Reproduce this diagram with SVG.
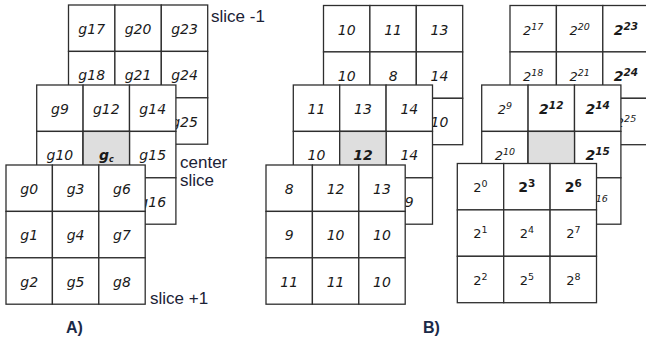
<svg xmlns="http://www.w3.org/2000/svg" width="646" height="338" viewBox="0 0 646 338">
  <style>
    .cell { fill: #ffffff; stroke: #2e2e2e; stroke-width: 1.3; }
    .hl { fill: #dedede; }
    .v { font-family: "DejaVu Sans", Verdana, sans-serif; font-size: 14px; font-style: italic; fill: #1a1a1a; text-anchor: middle; }
    .p { font-family: "DejaVu Sans", Verdana, sans-serif; font-size: 13px; font-style: italic; fill: #1a1a1a; text-anchor: middle; }
    .up { font-style: normal; }
    .b { font-weight: bold; font-size: 14px; }
    .bv { font-weight: bold; }
    .sup { font-size: 9.5px; }
    .bsup { font-size: 10.5px; }
    .lbl { font-family: "Liberation Sans", Arial, sans-serif; font-size: 17px; fill: #1b2236; }
    .tag { font-family: "Liberation Sans", Arial, sans-serif; font-size: 16px; font-weight: bold; fill: #1b2a48; }
  </style>
  <defs>
    <!-- one 3x3 grid of 46.4px cells -->
    <g id="grid">
      <rect class="cell" x="0" y="0" width="46.4" height="46.4"/>
      <rect class="cell" x="46.4" y="0" width="46.4" height="46.4"/>
      <rect class="cell" x="92.8" y="0" width="46.4" height="46.4"/>
      <rect class="cell" x="0" y="46.4" width="46.4" height="46.4"/>
      <rect class="cell" x="46.4" y="46.4" width="46.4" height="46.4"/>
      <rect class="cell" x="92.8" y="46.4" width="46.4" height="46.4"/>
      <rect class="cell" x="0" y="92.8" width="46.4" height="46.4"/>
      <rect class="cell" x="46.4" y="92.8" width="46.4" height="46.4"/>
      <rect class="cell" x="92.8" y="92.8" width="46.4" height="46.4"/>
    </g>
  </defs>

  <!-- A) symbolic neighbourhood -->
  <g id="a-slice-back">
    <use href="#grid" x="68.5" y="5"/>
    <text class="v" x="91.7" y="34">g17</text>
    <text class="v" x="138.1" y="34">g20</text>
    <text class="v" x="184.5" y="34">g23</text>
    <text class="v" x="91.7" y="80.4">g18</text>
    <text class="v" x="138.1" y="80.4">g21</text>
    <text class="v" x="184.5" y="80.4">g24</text>
    <text class="v" x="184.5" y="126.8">g25</text>
  </g>
  <g id="a-slice-center">
    <use href="#grid" x="36.7" y="85"/>
    <rect class="cell hl" x="83.1" y="131.4" width="46.4" height="46.4"/>
    <text class="v" x="59.9" y="114">g9</text>
    <text class="v" x="106.3" y="114">g12</text>
    <text class="v" x="152.7" y="114">g14</text>
    <text class="v" x="59.9" y="160.4">g10</text>
    <text class="v bv" x="106.3" y="160.4">g<tspan font-size="8" dy="2">c</tspan></text>
    <text class="v" x="152.7" y="160.4">g15</text>
    <text class="v" x="152.7" y="206.8">g16</text>
  </g>
  <g id="a-slice-front">
    <use href="#grid" x="6" y="165"/>
    <text class="v" x="29.2" y="194">g0</text>
    <text class="v" x="75.6" y="194">g3</text>
    <text class="v" x="122" y="194">g6</text>
    <text class="v" x="29.2" y="240.4">g1</text>
    <text class="v" x="75.6" y="240.4">g4</text>
    <text class="v" x="122" y="240.4">g7</text>
    <text class="v" x="29.2" y="286.8">g2</text>
    <text class="v" x="75.6" y="286.8">g5</text>
    <text class="v" x="122" y="286.8">g8</text>
  </g>
  <g id="a-labels">
    <text class="lbl" x="211" y="22">slice -1</text>
    <text class="lbl" x="180" y="168">center</text>
    <text class="lbl" x="180" y="186">slice</text>
    <text class="lbl" x="150" y="304">slice +1</text>
    <text class="tag" x="66" y="333">A)</text>
  </g>

  <!-- B) intensity values -->
  <g id="b-slice-back">
    <use href="#grid" x="323.5" y="5.5"/>
    <text class="v" x="346.7" y="34.5">10</text>
    <text class="v" x="393.1" y="34.5">11</text>
    <text class="v" x="439.5" y="34.5">13</text>
    <text class="v" x="346.7" y="80.9">10</text>
    <text class="v" x="393.1" y="80.9">8</text>
    <text class="v" x="439.5" y="80.9">14</text>
    <text class="v" x="439.5" y="127.3">10</text>
  </g>
  <g id="b-slice-center">
    <use href="#grid" x="293.3" y="85"/>
    <rect class="cell hl" x="339.7" y="131.4" width="46.4" height="46.4"/>
    <text class="v" x="316.5" y="114">11</text>
    <text class="v" x="362.9" y="114">13</text>
    <text class="v" x="409.3" y="114">14</text>
    <text class="v" x="316.5" y="160.4">10</text>
    <text class="v bv" x="362.9" y="160.4">12</text>
    <text class="v" x="409.3" y="160.4">14</text>
    <text class="v" x="409.3" y="206.8">9</text>
  </g>
  <g id="b-slice-front">
    <use href="#grid" x="266" y="165"/>
    <text class="v" x="289.2" y="194">8</text>
    <text class="v" x="335.6" y="194">12</text>
    <text class="v" x="382" y="194">13</text>
    <text class="v" x="289.2" y="240.4">9</text>
    <text class="v" x="335.6" y="240.4">10</text>
    <text class="v" x="382" y="240.4">10</text>
    <text class="v" x="289.2" y="286.8">11</text>
    <text class="v" x="335.6" y="286.8">11</text>
    <text class="v" x="382" y="286.8">10</text>
  </g>
  <g id="b-labels">
    <text class="tag" x="423" y="333">B)</text>
  </g>

  <!-- weights as powers of two -->
  <g id="c-slice-back">
    <use href="#grid" x="510" y="5.5"/>
    <text class="p" x="533.2" y="34.5">2<tspan class="sup" dy="-5">17</tspan></text>
    <text class="p" x="579.6" y="34.5">2<tspan class="sup" dy="-5">20</tspan></text>
    <text class="p b" x="626" y="34.5">2<tspan class="bsup" dy="-5">23</tspan></text>
    <text class="p" x="533.2" y="80.9">2<tspan class="sup" dy="-5">18</tspan></text>
    <text class="p" x="579.6" y="80.9">2<tspan class="sup" dy="-5">21</tspan></text>
    <text class="p b" x="626" y="80.9">2<tspan class="bsup" dy="-5">24</tspan></text>
    <text class="p" x="626" y="127.3">2<tspan class="sup" dy="-5">25</tspan></text>
  </g>
  <g id="c-slice-center">
    <use href="#grid" x="481.7" y="85"/>
    <rect class="cell hl" x="528.1" y="131.4" width="46.4" height="46.4"/>
    <text class="p" x="504.9" y="114">2<tspan class="sup" dy="-5">9</tspan></text>
    <text class="p b" x="551.3" y="114">2<tspan class="bsup" dy="-5">12</tspan></text>
    <text class="p b" x="597.7" y="114">2<tspan class="bsup" dy="-5">14</tspan></text>
    <text class="p" x="504.9" y="160.4">2<tspan class="sup" dy="-5">10</tspan></text>
    <text class="p b" x="597.7" y="160.4">2<tspan class="bsup" dy="-5">15</tspan></text>
    <text class="p" x="597.7" y="206.8">2<tspan class="sup" dy="-5">16</tspan></text>
  </g>
  <g id="c-slice-front">
    <use href="#grid" x="457.3" y="163.5"/>
    <text class="p up" x="480.5" y="192">2<tspan class="sup" dy="-5">0</tspan></text>
    <text class="p up b" x="526.9" y="192">2<tspan class="bsup" dy="-5">3</tspan></text>
    <text class="p up b" x="573.3" y="192">2<tspan class="bsup" dy="-5">6</tspan></text>
    <text class="p up" x="480.5" y="238.4">2<tspan class="sup" dy="-5">1</tspan></text>
    <text class="p up" x="526.9" y="238.4">2<tspan class="sup" dy="-5">4</tspan></text>
    <text class="p up" x="573.3" y="238.4">2<tspan class="sup" dy="-5">7</tspan></text>
    <text class="p up" x="480.5" y="284.8">2<tspan class="sup" dy="-5">2</tspan></text>
    <text class="p up" x="526.9" y="284.8">2<tspan class="sup" dy="-5">5</tspan></text>
    <text class="p up" x="573.3" y="284.8">2<tspan class="sup" dy="-5">8</tspan></text>
  </g>
</svg>
